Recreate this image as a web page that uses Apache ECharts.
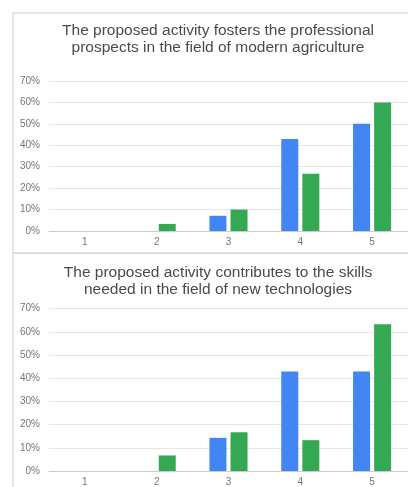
<!DOCTYPE html>
<html><head><meta charset="utf-8">
<script src="https://cdn.jsdelivr.net/npm/echarts@6/dist/echarts.min.js"></script>
<style>html,body{margin:0;padding:0;background:#fff}#c{width:408px;height:487px}</style>
</head><body><div id="c"></div>
<script>
const categories = ['1','2','3','4','5'];
const title1 = 'The proposed activity fosters the professional\nprospects in the field of modern agriculture';
const title2 = 'The proposed activity contributes to the skills\nneeded in the field of new technologies';
const top_blue = [0, 0, 7.1, 42.9, 50];
const top_green = [0, 3.3, 10, 26.7, 60];
const bottom_blue = [0, 0, 14.3, 42.9, 42.9];
const bottom_green = [0, 6.7, 16.7, 13.3, 63.3];
const yTicks = [0, 10, 20, 30, 40, 50, 60, 70];

const chart = echarts.init(document.getElementById('c'), null, {renderer:'canvas'});
const BLUE = '#4285F4', GREEN = '#34A853';
const axisLabel = {color:'#757575', fontSize:10, fontFamily:'Liberation Sans, Arial, sans-serif'};
function yAxis(gi){
  return {type:'value', gridIndex:gi, min:yTicks[0], max:yTicks[yTicks.length-1], interval:10,
    axisLabel:Object.assign({formatter:'{value}%', margin:9}, axisLabel),
    splitLine:{lineStyle:{color:'#e6e6e6'}}, axisLine:{show:false}, axisTick:{show:false}};
}
function xAxis(gi){
  return {type:'category', gridIndex:gi, data:categories,
    axisLabel:Object.assign({margin:6}, axisLabel),
    axisLine:{lineStyle:{color:'#cccccc'}}, axisTick:{show:false}};
}
function bar(gi, data, color){
  return {type:'bar', xAxisIndex:gi, yAxisIndex:gi, data:data, barWidth:17, barGap:'24%',
    itemStyle:{color:color}, silent:true};
}
const titleStyle = {color:'#4a4a4a', fontSize:15.5, fontWeight:'normal', lineHeight:17, fontFamily:'Liberation Sans, Arial, sans-serif'};
chart.setOption({
  animation:false,
  title:[
    {text:title1, left:213, top:17, textAlign:'center', textStyle:titleStyle},
    {text:title2, left:213, top:259, textAlign:'center', textStyle:titleStyle}
  ],
  graphic:[
    {type:'rect', shape:{x:13, y:13, width:420, height:240}, style:{fill:'none', stroke:'#dddddd', lineWidth:1.5}},
    {type:'rect', shape:{x:13, y:253, width:420, height:260}, style:{fill:'none', stroke:'#dddddd', lineWidth:1.5}}
  ],
  grid:[
    {left:49, width:360, top:81, height:150},
    {left:49, width:360, top:308.7, height:164.6}
  ],
  xAxis:[xAxis(0), xAxis(1)],
  yAxis:[yAxis(0), yAxis(1)],
  series:[bar(0, top_blue, BLUE), bar(0, top_green, GREEN), bar(1, bottom_blue, BLUE), bar(1, bottom_green, GREEN)]
});
</script></body></html>
